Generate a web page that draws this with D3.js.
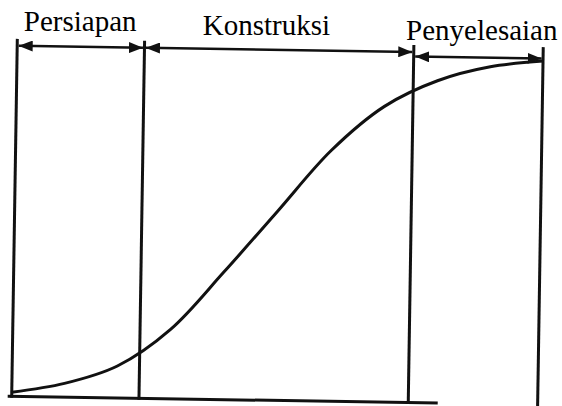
<!DOCTYPE html>
<html>
<head>
<meta charset="utf-8">
<script src="https://cdn.jsdelivr.net/npm/d3@7"></script>
</head>
<body style="margin:0;background:#fff">
<div id="wrap" style="position:relative;width:562px;height:406px">
<svg id="chart" width="562" height="406" style="display:block;position:absolute;left:0;top:0"></svg>
</div>
<script>
// ---- data ----
const phases = ["Persiapan", "Konstruksi", "Penyelesaian"];
const phaseBounds = [0, 24.2, 75.4, 100];          // time (% of duration)
const curveTime = [0, 10, 20, 30, 40, 50, 60, 70, 80, 90, 100];
const curveProgress = [1.2, 4.0, 9.3, 20.2, 37.2, 55.1, 73.0, 86.1, 93.8, 98.1, 100];
const axisEndTime = 81;                            // faded baseline in scan ends here

// ---- layout ----
const x = d3.scaleLinear().domain([0, 100]).range([14.5, 540.5]);
const y = d3.scaleLinear().domain([0, 100]).range([400.5, 57]);
const lineTop = 43, lineBottom = 402;
const ink = "#111";
const skew = "rotate(0.9, 280, 220)";

const svg = d3.select("#chart");
const defs = svg.append("defs");
const g = svg.append("g").attr("transform", skew);

function marker(id, orient) {
  defs.append("marker")
    .attr("id", id)
    .attr("viewBox", "0 0 14 11")
    .attr("refX", 14).attr("refY", 5.5)
    .attr("markerUnits", "userSpaceOnUse")
    .attr("markerWidth", 14).attr("markerHeight", 11)
    .attr("orient", orient)
    .append("path")
    .attr("d", "M0,0 L14,5.5 L0,11 Z")
    .attr("fill", ink);
}
marker("arrEnd", "auto");
marker("arrStart", "auto-start-reverse");

// baseline
g.append("line")
  .attr("x1", x(0) - 4).attr("x2", x(axisEndTime))
  .attr("y1", y(0)).attr("y2", y(0))
  .attr("stroke", ink).attr("stroke-width", 3);

// phase boundary lines
g.selectAll("line.phase")
  .data(phaseBounds)
  .enter().append("line")
  .attr("class", "phase")
  .attr("x1", d => x(d)).attr("x2", d => x(d))
  .attr("y1", lineTop).attr("y2", lineBottom)
  .attr("stroke", ink).attr("stroke-width", 3);

// S-curve
const line = d3.line()
  .x((d, i) => x(curveTime[i]))
  .y(d => y(d))
  .curve(d3.curveCatmullRom.alpha(0.5));
g.append("path")
  .datum(curveProgress)
  .attr("d", line)
  .attr("fill", "none")
  .attr("stroke", ink)
  .attr("stroke-width", 3);

// phase arrows
const arrowY = [50, 50, 54.5];
phases.forEach((p, i) => {
  const a = x(phaseBounds[i]) + 1.5, b = x(phaseBounds[i + 1]) - 1.5;
  g.append("line")
    .attr("x1", a).attr("x2", b)
    .attr("y1", arrowY[i]).attr("y2", arrowY[i])
    .attr("stroke", ink).attr("stroke-width", 2.5)
    .attr("marker-start", "url(#arrStart)")
    .attr("marker-end", "url(#arrEnd)");
});

// phase labels as HTML text over the drawing (baselines follow the scan's tilt)
const labelDx = [2, -10, 6];
const labelY = [33, 37, 41.5];
const fontSize = 29;
d3.select("#wrap").selectAll("div.phase-label")
  .data(phases)
  .enter().append("div")
  .attr("class", "phase-label")
  .style("position", "absolute")
  .style("width", "240px")
  .style("text-align", "center")
  .style("white-space", "nowrap")
  .style("left", (d, i) => ((x(phaseBounds[i]) + x(phaseBounds[i + 1])) / 2 + labelDx[i] - 120) + "px")
  .style("top", (d, i) => (labelY[i] - fontSize * 0.891) + "px")
  .style("font-family", '"Liberation Serif"')
  .style("font-size", fontSize + "px")
  .style("line-height", "1")
  .style("color", "#000")
  .text(d => d);
</script>
</body>
</html>
